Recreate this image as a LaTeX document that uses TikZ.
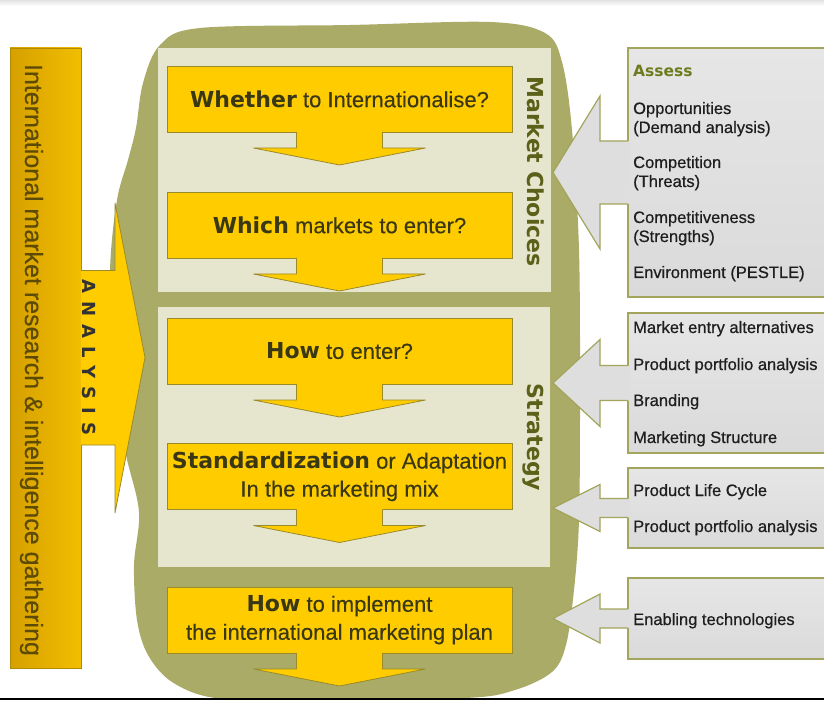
\documentclass[tikz,border=0pt]{standalone}
\usepackage{fontspec}
\setmainfont{Liberation Sans}
\newfontfamily\dvsans{DejaVu Sans}
\newfontfamily\medsans{Liberation Sans}[FakeBold=0.6]
\newfontfamily\ysans{Liberation Sans}[FakeBold=0.25]
\usetikzlibrary{calc}
\definecolor{blobc}{HTML}{A9AB66}
\definecolor{panelc}{HTML}{E6E6CF}
\definecolor{yel}{HTML}{FFCC00}
\definecolor{yline}{HTML}{9A8A2A}
\definecolor{ytext}{HTML}{3A3814}
\definecolor{goldL}{HTML}{D6A000}
\definecolor{goldR}{HTML}{F2BE00}
\definecolor{goldline}{HTML}{B08A00}
\definecolor{goldtext}{HTML}{5C4A05}
\definecolor{choicetext}{HTML}{5B6118}
\definecolor{assessc}{HTML}{6E7A1E}
\definecolor{gtop}{HTML}{E6E6E6}
\definecolor{gbot}{HTML}{DADADA}
\definecolor{gfill}{HTML}{DEDEDE}
\definecolor{gline}{HTML}{A3A55C}
\definecolor{gtext}{HTML}{1E1E1E}
\newcommand\bw[1]{{\dvsans\bfseries #1}}
\newcommand\yldown[1]{%
  \fill[yel] ($(#1.south)+(-43,-1)$) -- ($(#1.south)+(-43,16)$) -- ($(#1.south)+(-86,16)$) -- ($(#1.south)+(0,33)$) -- ($(#1.south)+(86,16)$) -- ($(#1.south)+(43,16)$) -- ($(#1.south)+(43,-1)$) -- cycle;
  \draw[yarrline] ($(#1.south)+(-43,0)$) -- ($(#1.south)+(-43,16)$) -- ($(#1.south)+(-86,16)$) -- ($(#1.south)+(0,33)$) -- ($(#1.south)+(86,16)$) -- ($(#1.south)+(43,16)$) -- ($(#1.south)+(43,0)$);
}
\newcommand\glarrow[3]{%
  \fill[gfill] ($(#1.west)+(2,-#3)$) -- ($(#1.west)+(-28,-#3)$) -- ($(#1.west)+(-28,-#2)$) -- ($(#1.west)+(-75,0)$) -- ($(#1.west)+(-28,#2)$) -- ($(#1.west)+(-28,#3)$) -- ($(#1.west)+(2,#3)$) -- cycle;
  \draw[garrline] ($(#1.west)+(0,-#3)$) -- ($(#1.west)+(-28,-#3)$) -- ($(#1.west)+(-28,-#2)$) -- ($(#1.west)+(-75,0)$) -- ($(#1.west)+(-28,#2)$) -- ($(#1.west)+(-28,#3)$) -- ($(#1.west)+(0,#3)$);
}
\tikzset{
  ybox/.style={draw=yline, line width=0.8pt, fill=yel, minimum width=345, minimum height=66, inner sep=0pt, outer sep=0pt, align=center, text=ytext, font=\ysans\fontsize{22}{28}\selectfont},
  yarrline/.style={draw=yline, line width=0.8pt},
  gbox/.style={draw=gline, line width=1.2pt, top color=gtop, bottom color=gbot, minimum width=210, anchor=north west, inner sep=0pt, outer sep=0pt},
  garrline/.style={draw=gline, line width=1.2pt, line join=miter},
  gtxt/.style={anchor=base west, inner sep=0pt, text=gtext, font=\medsans\fontsize{16.5}{19}\selectfont},
  panel/.style={fill=panelc, inner sep=0pt, outer sep=0pt},
  vlab/.style={rotate=-90, anchor=base, inner sep=0pt},
}
\begin{document}
\begin{tikzpicture}[x=1pt,y=-1pt]
\useasboundingbox (0,0) rectangle (824,708);
\clip (0,0) rectangle (824,708);
\fill[white] (0,0) rectangle (824,708);
\shade[top color=gray!22, bottom color=white] (0,0) rectangle (824,6);
% olive blob
\fill[blobc] plot[smooth cycle, tension=0.55] coordinates {
 (200,28) (350,25) (490,22) (545,33) (562,62) (572,130) (579,250) (580,400)
 (579,520) (574,590) (566,645) (552,672) (515,690) (465,698) (300,700) (215,698)
 (172,682) (148,655) (137,620) (134,565) (139,512) (126,455) (111,380) (110,270)
 (117,200) (128,160) (136,128) (143,83) (160,45)};
% panels
\node[panel, minimum width=393, minimum height=244] (p1) at (354.5,170) {};
\node[panel, minimum width=392, minimum height=260] (p2) at (354,437) {};
% analysis arrow
\node[draw=goldline, line width=0.6pt, left color=goldL, right color=goldR, minimum width=71, minimum height=620, inner sep=0pt, outer sep=0pt] (bar) at (45.5,358) {};
\coordinate (atip) at (145,357.5);
\filldraw[fill=yel, draw=yline, line width=0.8pt, line join=miter] (bar.east |- 0,270.5) -- (115,270.5) -- (115,203) -- (atip) -- (115,513) -- (115,445) -- (bar.east |- 0,445);
\node[vlab, text=goldtext, font=\ysans\fontsize{25}{30}\selectfont] (bartext) at (25,360) {International market research \& intelligence gathering};
\node[vlab, text=black!80, font=\dvsans\bfseries\fontsize{18}{20}\selectfont] (analysis) at (82,357.5) {A\kern8pt N\kern8pt A\kern8pt L\kern8pt Y\kern8pt S\kern8pt I\kern8pt S};
% yellow boxes
\node[ybox] (b1) at (339.5,99) {\bw{Whether} to Internationalise?};
\node[ybox] (b2) at (339.5,225) {\bw{Which} markets to enter?};
\node[ybox] (b3) at (339.5,351) {\bw{How} to enter?};
\node[ybox] (b4) at (339.5,476.5) {\bw{Standardization} or Adaptation\\In the marketing mix};
\node[ybox] (b5) at (339.5,620) {\bw{How} to implement\\the international marketing plan};
\yldown{b1}\yldown{b2}\yldown{b3}\yldown{b4}\yldown{b5}
% panel labels
\node[vlab, text=choicetext, font=\dvsans\bfseries\fontsize{22}{24}\selectfont] (mc) at (527,171.5) {Market Choices};
\node[vlab, text=choicetext, font=\dvsans\bfseries\fontsize{22}{24}\selectfont] (st) at (527,437.5) {Strategy};
% gray boxes
\node[gbox, minimum height=249] (gA) at (628,48) {};
\node[gbox, minimum height=140] (gB) at (628,313) {};
\node[gbox, minimum height=80] (gC) at (628,468) {};
\node[gbox, minimum height=81] (gD) at (628,578) {};
\glarrow{gA}{76.5}{31.5}
\glarrow{gB}{43.5}{17.5}
\glarrow{gC}{23.5}{9.5}
\glarrow{gD}{24.5}{9.5}
\node[gtxt, text=assessc, font=\dvsans\bfseries\fontsize{15.5}{19}\selectfont] (a0) at (633,77) {Assess};
\node[gtxt] (a1) at (633,114) {Opportunities};
\node[gtxt] (a2) at (633,133) {(Demand analysis)};
\node[gtxt] (a3) at (633,168) {Competition};
\node[gtxt] (a4) at (633,187) {(Threats)};
\node[gtxt] (a5) at (633,223) {Competitiveness};
\node[gtxt] (a6) at (633,242) {(Strengths)};
\node[gtxt] (a7) at (633,278) {Environment (PESTLE)};
\node[gtxt] (bb1) at (633,333) {Market entry alternatives};
\node[gtxt] (bb2) at (633,370) {Product portfolio analysis};
\node[gtxt] (bb3) at (633,406) {Branding};
\node[gtxt] (bb4) at (633,443) {Marketing Structure};
\node[gtxt] (c1) at (633,496) {Product Life Cycle};
\node[gtxt] (c2) at (633,532) {Product portfolio analysis};
\node[gtxt] (d1) at (633,625) {Enabling technologies};
% bottom
\fill[white] (0,699) rectangle (824,708);
\draw[black, line width=1.4pt] (0,699) -- (824,699);
\end{tikzpicture}
\end{document}
